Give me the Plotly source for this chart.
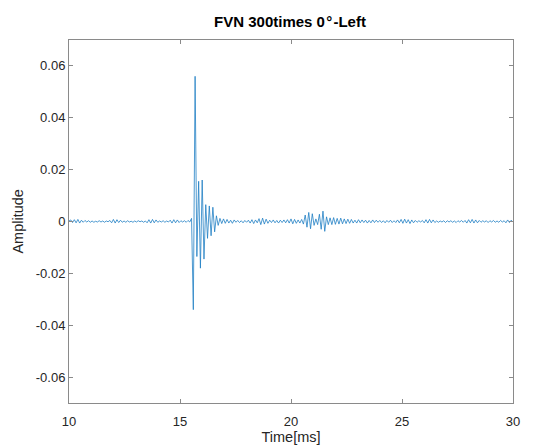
import plotly.graph_objects as go

t_start = 10.0
t_step = 0.08
amplitude = [
    0.0002, 0.0006, -0.0004, 0.0007, -0.0005, 0.0008, -0.0006, 0.0005, -0.0003, 0.0004, -0.0002, 0.0003, -0.0003,
    0.0002, -0.0003, 0.0001, -0.0002, 0.0003, -0.0002, 0.0002, -0.0003, 0.0002, -0.0001,
    0.0004, -0.0005, 0.0008, -0.0006, 0.0007, -0.0004, 0.0005, -0.0003,
    0.0002, -0.0003, 0.0003, -0.0002, 0.0001, -0.0003, 0.0002, -0.0002, 0.0003, -0.0001, 0.0002, -0.0003, 0.0002,
    -0.0005, 0.0007, -0.0006, 0.0008, -0.0005, 0.0006, -0.0003,
    0.0002, -0.0002, 0.0003, -0.0003, 0.0002, -0.0002,
    0.0005, -0.0006, 0.0007, -0.0005, 0.0006, -0.0004, 0.0003,
    -0.0002, 0.0003, -0.0003, 0.0004, -0.0002,
    0.0012, -0.034, 0.056, -0.0135, 0.0155, -0.018, 0.016, -0.0145, 0.0065, -0.0065,
    0.006, -0.0055, 0.0055, -0.004, 0.0022, -0.0015, 0.0012, -0.0008, 0.0010, -0.0007,
    0.0008, -0.0006, 0.0005, -0.0007, 0.0006,
    -0.0003, 0.0004, -0.0004, 0.0003, -0.0005, 0.0004, -0.0003,
    0.0005, -0.0006, 0.0007, -0.0008, 0.0006, -0.0005,
    0.0011, -0.0012, 0.0013, -0.0010, 0.0009, -0.0007,
    0.0005, -0.0004, 0.0006, -0.0005, 0.0004, -0.0006, 0.0005, -0.0004,
    0.0006, -0.0005, 0.0007, -0.0006,
    0.0010, -0.0009, 0.0008, -0.0007, 0.0006,
    -0.0006, 0.0008, -0.0010, 0.0025, -0.0022,
    0.0035, -0.0028, 0.0030, -0.0015,
    0.0010, -0.0012, 0.0028, -0.0030,
    0.0040, -0.0038, 0.0018, -0.0012,
    0.0014, -0.0012, 0.0015, -0.0011, 0.0012, -0.0010, 0.0013, -0.0009, 0.0010, -0.0008, 0.0009, -0.0007, 0.0008, -0.0006,
    0.0005, -0.0006, 0.0007, -0.0005, 0.0006, -0.0004, 0.0005, -0.0006, 0.0004, -0.0005, 0.0006, -0.0004, 0.0005, -0.0003, 0.0004,
    -0.0004, 0.0003, -0.0005, 0.0004, -0.0003, 0.0005, -0.0004, 0.0003, -0.0004, 0.0006, -0.0005,
    0.0008, -0.0007, 0.0009, -0.0006, 0.0007, -0.0008, 0.0006, -0.0005, 0.0004,
    -0.0003, 0.0003, -0.0002, 0.0004, -0.0005,
    0.0007, -0.0006, 0.0008, -0.0005, 0.0006, -0.0004,
    0.0002, -0.0003, 0.0002, -0.0002, 0.0003, -0.0004, 0.0003, -0.0002, 0.0003, -0.0003, 0.0002, -0.0004, 0.0003, -0.0002, 0.0004, -0.0003, 0.0004,
    -0.0006, 0.0007, -0.0005, 0.0008, -0.0006, 0.0006, -0.0005, 0.0004, -0.0003,
    0.0003, -0.0002, 0.0003, -0.0004, 0.0003, -0.0002, 0.0004, -0.0003, 0.0002, -0.0003, 0.0004, -0.0002, 0.0003,
    -0.0005, 0.0006, -0.0004, 0.0005, -0.0002,
]

x_ticks = [10, 15, 20, 25, 30]
x_ticktext = ["10", "15", "20", "25", "30"]
y_ticks = [-0.06, -0.04, -0.02, 0, 0.02, 0.04, 0.06]
y_ticktext = ["-0.06", "-0.04", "-0.02", "0", "0.02", "0.04", "0.06"]

title_text = "FVN 300times 0\u200a°\u200a-Left"
x_label = "Time[ms]"
y_label = "Amplitude"

FONT = "Liberation Sans, Arial, sans-serif"

fig = go.Figure()
fig.add_trace(go.Scatter(
    x0=t_start, dx=t_step, y=amplitude,
    mode="lines",
    line=dict(color="#1f7fc4", width=0.8),
    showlegend=False,
))

axis_common = dict(
    showline=True, linecolor="#8a8a8a", linewidth=1, mirror="ticks",
    ticks="inside", ticklen=4, tickcolor="#8a8a8a",
    showgrid=False, zeroline=False, automargin=False,
    tickfont=dict(family=FONT, size=13, color="#262626"),
)

fig.update_layout(
    width=540, height=447,
    margin=dict(l=69, r=27, t=40, b=44),
    paper_bgcolor="white", plot_bgcolor="white",
    title=dict(text="<b>" + title_text + "</b>", x=0.537, xanchor="center", y=0.952, yanchor="middle",
               font=dict(family=FONT, size=15, color="#000000")),
    xaxis=dict(range=[10, 30], tickvals=x_ticks, ticktext=x_ticktext, ticklabelstandoff=6,
               title=dict(text=x_label, standoff=3, font=dict(family=FONT, size=14.5, color="#262626")),
               **axis_common),
    yaxis=dict(range=[-0.07, 0.07], tickvals=y_ticks, ticktext=y_ticktext, **axis_common),
    annotations=[dict(text=y_label, textangle=-90, xref="paper", yref="paper",
                      x=-0.117, y=0.5, xanchor="center", yanchor="middle", showarrow=False,
                      font=dict(family=FONT, size=14.5, color="#262626"))],
)

fig.write_html("out.html", config={"displayModeBar": False},
               post_script="document.body.style.margin='0';document.body.style.padding='0';")
